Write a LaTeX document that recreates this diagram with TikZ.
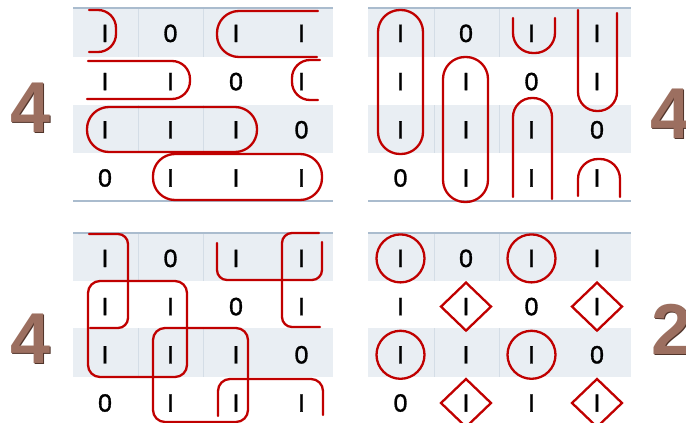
\documentclass[tikz,border=0pt]{standalone}
\usepackage{fontspec}
\setmainfont{Liberation Sans}
\newfontfamily\digitfont[FakeBold=1.2]{Liberation Sans}
\definecolor{kred}{RGB}{192,0,0}
\definecolor{rowgray}{RGB}{233,238,243}
\definecolor{rulecol}{RGB}{170,188,206}
\definecolor{divcol}{RGB}{212,221,230}
\definecolor{numbrown}{RGB}{156,111,96}
\definecolor{numshadow}{RGB}{80,52,42}
\begin{document}
\begin{tikzpicture}[x=1pt,y=-1pt,
  dig/.style={anchor=base,inner sep=0pt,font=\digitfont\fontsize{25}{25}\selectfont},
  loop/.style={draw=kred,line width=2.3pt,line cap=round,line join=round},
  bignum/.style={anchor=base west,inner sep=0pt,font=\fontsize{72}{72}\selectfont\bfseries,text=numbrown},
  bigshadow/.style={anchor=base west,inner sep=0pt,font=\fontsize{72}{72}\selectfont\bfseries,text=numshadow},
  grayrow/.style={fill=rowgray,draw=none},
  divider/.style={draw=divcol,line width=0.8pt},
  tablerule/.style={draw=rulecol,line width=1.4pt}
]
\useasboundingbox (0,0) rectangle (686,423);

% table backgrounds
\foreach \xa/\xb/\ya/\yb/\yc/\yd in {73/333/8/57/105/153, 368/631/8/57/105/153, 73/333/233/281/328/377, 368/631/233/281/328/377}{
  \fill[grayrow] (\xa,\ya) rectangle (\xb,\yb);
  \fill[grayrow] (\xa,\yc) rectangle (\xb,\yd);
}
\foreach \xd/\ya/\yb/\yc/\yd in {138/8/57/105/153, 203/8/57/105/153, 434/8/57/105/153, 499/8/57/105/153,
                                 138/233/281/328/377, 203/233/281/328/377, 434/233/281/328/377, 499/233/281/328/377}{
  \draw[divider] (\xd,\ya) -- (\xd,\yb);
  \draw[divider] (\xd,\yc) -- (\xd,\yd);
}
\draw[tablerule] (73,8) -- (333,8);
\draw[tablerule] (368,8) -- (631,8);
\draw[tablerule] (73,201) -- (333,201);
\draw[tablerule] (368,201) -- (631,201);
\draw[tablerule] (73,233) -- (333,233);
\draw[tablerule] (368,233) -- (631,233);

% digits
\foreach \t/\xs/\ys in {tl/105/33, tr/400.5/33, bl/105/258, br/400.5/258}{
  \foreach \r/\c/\v in {1/1/I,1/2/0,1/3/I,1/4/I, 2/1/I,2/2/I,2/3/0,2/4/I,
                        3/1/I,3/2/I,3/3/I,3/4/0, 4/1/0,4/2/I,4/3/I,4/4/I}{
    \node[dig] (\t-\r-\c) at ({\xs+65.5*(\c-1)},{\ys+48.2*(\r-1)+9}) {\v};
  }
}

% top-left loops
\draw[loop,rounded corners=18pt] (89,10) -- (116,10) -- (116,52) -- (89,52);
\draw[loop,rounded corners=22pt] (318,11) -- (217,11) -- (217,57) -- (317,57);
\draw[loop,rounded corners=18pt] (88,61) -- (190,61) -- (190,99) -- (87,99);
\draw[loop,rounded corners=18pt] (320,60) -- (292,60) -- (292,100) -- (318,100);
\draw[loop,rounded corners=22pt] (87,107) rectangle (257,152);
\draw[loop,rounded corners=22pt] (153,154) rectangle (322,200);

% top-right loops
\draw[loop,rounded corners=22pt] (378,10) rectangle (423,154);
\draw[loop,rounded corners=22pt] (443,57) rectangle (488,202);
\draw[loop,rounded corners=20pt] (513,18) -- (513,53) -- (555,53) -- (555,18);
\draw[loop,rounded corners=19pt] (578,10) -- (578,111) -- (617,111) -- (617,13);
\draw[loop,rounded corners=19pt] (513,197) -- (513,98) -- (552,98) -- (552,199);
\draw[loop,rounded corners=20pt] (578,196) -- (578,159) -- (620,159) -- (620,197);

% bottom-left loops
\draw[loop,rounded corners=10pt] (89,234) -- (128,234) -- (128,328) -- (90,328);
\draw[loop,rounded corners=10pt] (217,243) -- (217,280) -- (322,280) -- (322,242);
\draw[loop,rounded corners=10pt] (319,233) -- (282,233) -- (282,327) -- (320,327);
\draw[loop,rounded corners=12pt] (88,281) rectangle (187,377);
\draw[loop,rounded corners=12pt] (153,328) rectangle (248,422);
\draw[loop,rounded corners=12pt] (218,416) -- (218,379) -- (323,379) -- (323,415);

% bottom-right: circles and diamonds
\foreach \n in {br-1-1,br-1-3,br-3-1,br-3-3}{
  \draw[loop] (\n.center) circle (24pt);
}
\foreach \n in {br-2-2,br-2-4,br-4-2,br-4-4}{
  \draw[loop,line join=miter] ([shift={(0,-24)}]\n.center) -- ([shift={(25,0)}]\n.center)
     -- ([shift={(0,24)}]\n.center) -- ([shift={(-25,0)}]\n.center) -- cycle;
}

% big numbers
\foreach \nm/\x/\y/\v in {ntl/10/132/4, ntr/650/138/4, nbl/10/363/4, nbr/651/354/2}{
  \node[bigshadow] (\nm-s) at (\x+1.3,\y+1.6) {\v};
  \node[bignum] (\nm) at (\x,\y) {\v};
}
\end{tikzpicture}
\end{document}
